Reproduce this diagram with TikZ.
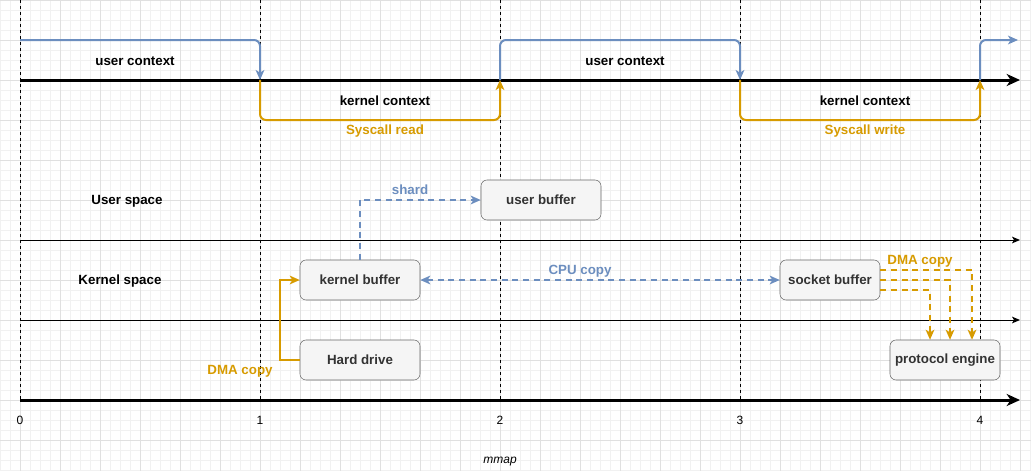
\documentclass[tikz,border=0pt]{standalone}
\usepackage{fontspec}
\setmainfont{Liberation Sans}
\usetikzlibrary{arrows.meta}
\definecolor{ctxblue}{HTML}{6C8EBF}
\definecolor{callorange}{HTML}{D79B00}
\definecolor{boxfill}{HTML}{F5F5F5}
\definecolor{boxline}{HTML}{666666}
\definecolor{boxtext}{HTML}{333333}
\definecolor{gridminor}{HTML}{F1F1F1}
\definecolor{gridmajor}{HTML}{E0E0E0}

\begin{document}
\begin{tikzpicture}[x=0.75pt, y=-0.75pt,
    >={Stealth[length=7.5pt, width=6.5pt, inset=2pt]},
    lbl/.style={font=\bfseries\fontsize{10}{12}\selectfont, inner sep=1pt},
    buf/.style={fill=boxfill, draw=boxline, text=boxtext, rounded corners=4.5pt, minimum width=90pt, minimum height=30pt, inner sep=0pt, font=\bfseries\fontsize{10}{12}\selectfont},
    ctx/.style={ctxblue, line width=1.5pt, rounded corners=4.5pt, ->},
    call/.style={callorange, line width=1.5pt, rounded corners=4.5pt, ->},
    axis/.style={line width=2.25pt, -{Stealth[length=10pt, width=9pt, inset=3pt]}},
    lane/.style={line width=0.75pt, -{Stealth[length=6pt, width=5pt, inset=1.5pt]}},
    copydash/.style={line width=1.5pt, dash pattern=on 4.5pt off 3.5pt}]

  % paper and grid
  \useasboundingbox (0,0) rectangle (1031,471);
  \fill[white] (0,0) rectangle (1031,471);
  \foreach \gx in {0,10,...,1030} \draw[gridminor, line width=0.5pt] (\gx,0) -- (\gx,471);
  \foreach \gy in {0,10,...,470} \draw[gridminor, line width=0.5pt] (0,\gy) -- (1031,\gy);
  \foreach \gx in {20,60,...,1020} \draw[gridmajor, line width=0.6pt] (\gx,0) -- (\gx,471);
  \foreach \gy in {0,40,...,440} \draw[gridmajor, line width=0.6pt] (0,\gy) -- (1031,\gy);

  % time marks
  \foreach \tx/\tn in {20/0,260/1,500/2,740/3,980/4} {
    \draw[line width=0.75pt, dash pattern=on 2.25pt off 2.25pt] (\tx,0) -- (\tx,400);
    \node[font=\fontsize{9}{11}\selectfont] (tick\tn) at (\tx,420) {\tn};
  }

  % context switches
  \draw[axis] (20,80) -- (1020,80);
  \draw[ctx] (20,40) -- (260,40) -- (260,80);
  \draw[call] (260,80) -- (260,120) -- (500,120) -- (500,80);
  \draw[ctx] (500,80) -- (500,40) -- (740,40) -- (740,80);
  \draw[call] (740,80) -- (740,120) -- (980,120) -- (980,80);
  \draw[ctx] (980,80) -- (980,40) -- (1018,40);
  \node[lbl] (uctx1) at (135,61) {user context};
  \node[lbl] (kctx1) at (385,101) {kernel context};
  \node[lbl, text=callorange] (sysread) at (385,131) {Syscall read};
  \node[lbl] (uctx2) at (625,61) {user context};
  \node[lbl] (kctx2) at (865,101) {kernel context};
  \node[lbl, text=callorange] (syswrite) at (865,131) {Syscall write};

  % spaces
  \draw[lane] (20,240) -- (1020,240);
  \draw[lane] (20,320) -- (1020,320);
  \draw[axis] (20,400) -- (1020,400);
  \node[lbl] (uspace) at (127,201) {User space};
  \node[lbl] (kspace) at (120,281) {Kernel space};

  % buffers
  \node[buf] (ubuf) at (541,200) {user buffer};
  \node[buf] (kbuf) at (360,280) {kernel buffer};
  \node[buf] (hdd) at (360,360) {Hard drive};
  \node[buf, minimum width=75pt] (sbuf) at (830,280) {socket buffer};
  \node[buf, minimum width=82.5pt] (proto) at (945,360) {protocol engine};

  % copies
  \draw[copydash, ctxblue, ->] (kbuf.north) |- (ubuf.west);
  \node[lbl, text=ctxblue] (shard) at (410,190) {shard};
  \draw[copydash, ctxblue, <->] (kbuf.east) -- (sbuf.west);
  \node[lbl, text=ctxblue] (cpucopy) at (580,271) {CPU copy};
  \draw[call, rounded corners=0pt] (hdd.west) -- ++(-20,0) |- (kbuf.west);
  \node[lbl, text=callorange] (dmaread) at (240,371) {DMA copy};
  \draw[copydash, callorange, ->] ([yshift=7.5pt]sbuf.east) -| ([xshift=20.25pt]proto.north);
  \draw[copydash, callorange, ->] (sbuf.east) -| ([xshift=3.75pt]proto.north);
  \draw[copydash, callorange, ->] ([yshift=-7.5pt]sbuf.east) -| ([xshift=-11.25pt]proto.north);
  \node[lbl, text=callorange] (dmawrite) at (920,261) {DMA copy};

  \node[font=\itshape\fontsize{9}{11}\selectfont] (mmap) at (500,462) {mmap};
\end{tikzpicture}
\end{document}
